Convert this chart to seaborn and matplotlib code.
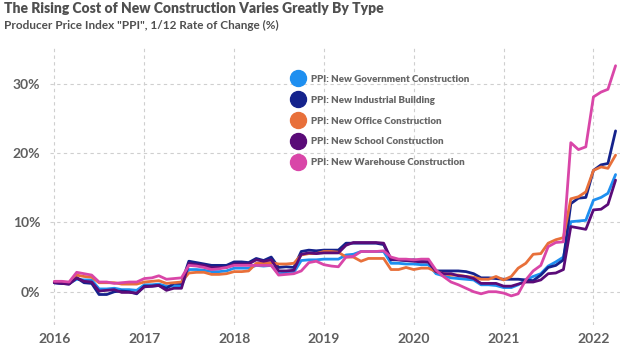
import numpy as np
import pandas as pd
import matplotlib
matplotlib.use("Agg")
import matplotlib.pyplot as plt
import matplotlib.dates as mdates
from matplotlib.lines import Line2D
from matplotlib.ticker import FuncFormatter
import seaborn as sns

# ---------------- data ----------------
dates = pd.date_range("2016-01-01", periods=76, freq="MS")

series_names = [
    "PPI: New Government Construction",
    "PPI: New Industrial Building",
    "PPI: New Office Construction",
    "PPI: New School Construction",
    "PPI: New Warehouse Construction",
]

gov = [1.3, 1.2, 1.2, 1.8, 1.7, 1.7, 0.4, 0.4, 0.5, 0.3, 0.3, 0.2,
       1.0, 1.0, 1.1, 0.8, 0.8, 0.9, 3.2, 3.2, 3.1, 2.9, 2.9, 3.0,
       3.4, 3.4, 3.4, 3.8, 3.7, 3.8, 2.6, 2.7, 2.8, 4.5, 4.6, 4.6,
       4.7, 4.7, 4.7, 5.3, 5.4, 5.8, 5.8, 5.8, 5.8, 4.1, 4.1, 4.0,
       4.0, 3.9, 3.9, 2.6, 2.3, 2.0, 1.9, 1.8, 1.7, 1.0, 1.0, 0.9,
       0.6, 0.6, 1.0, 1.7, 2.2, 2.6, 3.7, 4.3, 5.0, 10.1, 10.2, 10.3,
       13.2, 13.6, 14.2, 16.9]

industrial = [1.3, 1.2, 1.1, 2.0, 1.3, 1.2, -0.4, -0.4, 0.0, 0.1, 0.0, -0.3,
              0.8, 0.8, 0.9, 0.5, 1.2, 1.2, 4.4, 4.2, 4.0, 3.8, 3.8, 3.8,
              4.3, 4.3, 4.2, 4.8, 4.5, 5.0, 3.5, 3.6, 3.5, 5.8, 6.0, 5.9,
              6.0, 6.0, 6.0, 7.0, 7.0, 7.0, 7.0, 7.0, 6.8, 4.6, 4.6, 4.5,
              4.6, 4.4, 4.3, 3.0, 3.0, 3.0, 3.0, 2.9, 2.6, 2.0, 2.0, 1.9,
              1.8, 1.8, 1.8, 1.7, 1.6, 2.4, 3.5, 3.8, 4.6, 12.7, 13.5, 13.6,
              17.5, 18.3, 18.5, 23.2]

office = [1.4, 1.4, 1.3, 2.4, 2.2, 2.1, 1.3, 1.3, 1.3, 1.1, 1.1, 1.1,
          1.4, 1.5, 1.6, 1.2, 1.3, 1.4, 2.7, 2.8, 2.8, 2.5, 2.5, 2.6,
          2.9, 2.9, 3.0, 4.1, 4.1, 4.2, 4.0, 4.0, 4.1, 5.3, 5.5, 5.5,
          5.8, 5.8, 5.7, 5.0, 5.0, 4.4, 4.8, 4.8, 4.8, 3.2, 3.2, 3.5,
          3.2, 3.4, 3.4, 2.9, 2.6, 2.4, 2.4, 2.2, 2.1, 1.8, 1.8, 2.2,
          1.7, 2.2, 3.4, 4.1, 5.4, 5.5, 7.0, 7.5, 7.8, 13.4, 13.7, 14.4,
          17.5, 18.0, 17.8, 19.7]

school = [1.3, 1.2, 1.1, 2.0, 1.5, 1.4, 0.1, 0.2, 0.3, -0.1, -0.1, -0.2,
          0.7, 0.8, 0.9, 0.2, 0.5, 0.5, 4.1, 3.9, 3.8, 3.5, 3.5, 3.5,
          4.0, 4.0, 4.0, 4.6, 4.4, 4.6, 3.0, 3.0, 3.1, 5.4, 5.6, 5.5,
          5.6, 5.6, 5.6, 6.7, 7.1, 7.1, 7.1, 7.1, 7.0, 4.7, 4.6, 4.5,
          4.4, 4.3, 4.3, 2.9, 2.6, 2.6, 2.3, 2.2, 1.9, 1.2, 1.2, 1.2,
          0.8, 0.8, 1.1, 1.4, 1.4, 1.7, 2.6, 2.7, 3.2, 9.4, 9.2, 9.0,
          11.8, 11.9, 12.6, 16.1]

warehouse = [1.5, 1.5, 1.4, 2.8, 2.6, 2.4, 1.4, 1.4, 1.2, 1.3, 1.4, 1.4,
             1.9, 2.0, 2.3, 1.8, 1.9, 2.0, 3.8, 3.7, 3.5, 3.2, 3.3, 3.5,
             3.8, 3.8, 3.8, 3.8, 3.8, 3.8, 2.4, 2.5, 2.6, 3.0, 4.2, 4.4,
             3.9, 3.7, 3.6, 5.0, 5.1, 5.8, 5.8, 5.8, 5.9, 5.0, 4.7, 4.7,
             4.6, 4.7, 4.7, 3.1, 2.2, 1.4, 1.0, 0.5, 0.0, -0.3, 0.0, 0.0,
             -0.2, -0.6, -0.3, 1.7, 3.0, 3.8, 6.5, 7.1, 7.2, 21.5, 20.5, 20.9,
             28.1, 28.8, 29.2, 32.6]

y_ticks = [0, 10, 20, 30]
x_tick_years = [2016, 2017, 2018, 2019, 2020, 2021, 2022]

colors = ["#1E8FF0", "#15238C", "#E8703A", "#5A0B78", "#D946A8"]

# ---------------- build table ----------------
frames = []
for name, vals in zip(series_names, [gov, industrial, office, school, warehouse]):
    frames.append(pd.DataFrame({"date": dates, "value": vals, "series": name}))
df = pd.concat(frames, ignore_index=True)

# ---------------- plot ----------------
sns.set_theme(style="white")
plt.rcParams["font.family"] = ["Lato", "DejaVu Sans"]

W, H = 623, 347
fig = plt.figure(figsize=(W / 100, H / 100), dpi=100)
ax = fig.add_axes([50 / W, 1 - 325 / H, 570 / W, (325 - 47) / H])

sns.lineplot(data=df, x="date", y="value", hue="series", hue_order=series_names,
             palette=colors, linewidth=2.0, ax=ax, legend=False)

ax.set_xlim(pd.Timestamp("2016-01-01") - pd.Timedelta(days=17.5),
            pd.Timestamp("2022-04-19"))
ax.set_ylim(-4.8, 35.3)

ax.set_xticks([pd.Timestamp(f"{y}-01-01") for y in x_tick_years])
ax.xaxis.set_major_formatter(mdates.DateFormatter("%Y"))
ax.set_yticks(y_ticks)
ax.yaxis.set_major_formatter(FuncFormatter(lambda v, p: f"{int(v)}%"))

tick_color = "#5f5f5f"
for lab in ax.get_xticklabels() + ax.get_yticklabels():
    lab.set_fontsize(10)
    lab.set_fontweight("bold")
    lab.set_color(tick_color)
ax.tick_params(axis="y", length=0, pad=7)
ax.tick_params(axis="x", length=0, pad=6)

ax.grid(True, which="major", axis="both", linestyle=(0, (3, 3)),
        color="#cfcfcf", linewidth=0.8)
for s in ax.spines.values():
    s.set_visible(False)
ax.set_xlabel("")
ax.set_ylabel("")

handles = [Line2D([], [], marker="o", linestyle="", markersize=11.5,
                  markerfacecolor=c, markeredgecolor=c) for c in colors]
leg = ax.legend(handles, series_names, loc="upper left",
                bbox_to_anchor=(288 / W, 1 - 71 / H), bbox_transform=fig.transFigure,
                frameon=False, fontsize=7.0, labelspacing=1.22,
                handletextpad=0.8, borderaxespad=0, handlelength=1.2)
for t in leg.get_texts():
    t.set_color("#666666")
    t.set_fontweight("heavy")

fig.text(4 / W, 1 - 2 / H, "The Rising Cost of New Construction Varies Greatly By Type",
         fontsize=10.0, fontweight="heavy", color="#505050", va="top", ha="left")
fig.text(4 / W, 1 - 20 / H, 'Producer Price Index "PPI", 1/12 Rate of Change (%)',
         fontsize=8.5, fontweight="bold", color="#505050", va="top", ha="left")

fig.savefig("out.png", dpi=100, facecolor="white")
